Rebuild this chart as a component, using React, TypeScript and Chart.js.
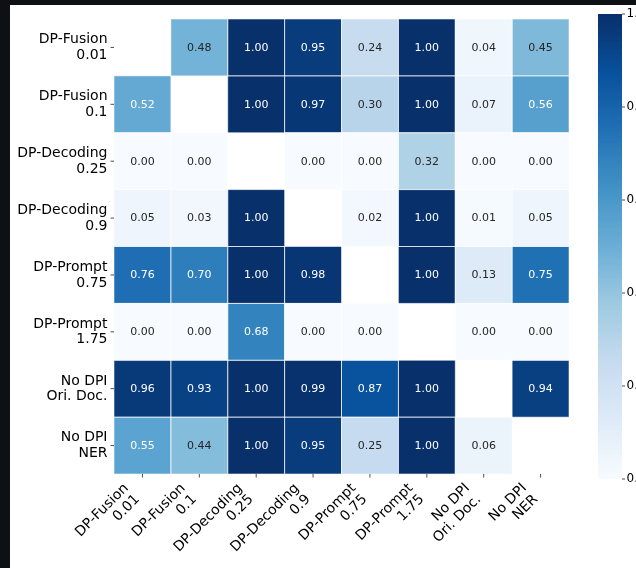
import React, { useEffect, useRef } from "react";
import { Chart, registerables } from "chart.js";
Chart.register(...registerables);

const categories: string[][] = [
  ["DP-Fusion", "0.01"],
  ["DP-Fusion", "0.1"],
  ["DP-Decoding", "0.25"],
  ["DP-Decoding", "0.9"],
  ["DP-Prompt", "0.75"],
  ["DP-Prompt", "1.75"],
  ["No DPI", "Ori. Doc."],
  ["No DPI", "NER"],
];

const rowFusion001 = [null, 0.48, 1.0, 0.95, 0.24, 1.0, 0.04, 0.45];
const rowFusion01 = [0.52, null, 1.0, 0.97, 0.3, 1.0, 0.07, 0.56];
const rowDecoding025 = [0.0, 0.0, null, 0.0, 0.0, 0.32, 0.0, 0.0];
const rowDecoding09 = [0.05, 0.03, 1.0, null, 0.02, 1.0, 0.01, 0.05];
const rowPrompt075 = [0.76, 0.7, 1.0, 0.98, null, 1.0, 0.13, 0.75];
const rowPrompt175 = [0.0, 0.0, 0.68, 0.0, 0.0, null, 0.0, 0.0];
const rowNoDpiDoc = [0.96, 0.93, 1.0, 0.99, 0.87, 1.0, null, 0.94];
const rowNoDpiNer = [0.55, 0.44, 1.0, 0.95, 0.25, 1.0, 0.06, null];

const matrix: (number | null)[][] = [
  rowFusion001,
  rowFusion01,
  rowDecoding025,
  rowDecoding09,
  rowPrompt075,
  rowPrompt175,
  rowNoDpiDoc,
  rowNoDpiNer,
];

const colorbarTicks = [0, 0.2, 0.4, 0.6, 0.8, 1.0];
const colorbarTickLabels = ["0.0", "0.2", "0.4", "0.6", "0.8", "1.0"];

const BLUES = [
  "#f7fbff", "#deebf7", "#c6dbef", "#9ecae1", "#6baed6",
  "#4292c6", "#2171b5", "#08519c", "#08306b",
];

function hexToRgb(h: string) {
  return [parseInt(h.slice(1, 3), 16), parseInt(h.slice(3, 5), 16), parseInt(h.slice(5, 7), 16)];
}
const BLUES_RGB = BLUES.map(hexToRgb);

function bluesRgb(v: number): number[] {
  const idx = Math.min(255, Math.max(0, Math.floor(v * 256)));
  const t = idx / 255;
  const p = t * 8;
  const i = Math.min(7, Math.floor(p));
  const f = p - i;
  const a = BLUES_RGB[i];
  const b = BLUES_RGB[i + 1];
  return [0, 1, 2].map((k) => a[k] + (b[k] - a[k]) * f);
}
function rgbStr(c: number[]) {
  return `rgb(${Math.round(c[0])},${Math.round(c[1])},${Math.round(c[2])})`;
}
function luminance(c: number[]) {
  const lin = c.map((x) => {
    const s = x / 255;
    return s <= 0.03928 ? s / 12.92 : Math.pow((s + 0.055) / 1.055, 2.4);
  });
  return 0.2126 * lin[0] + 0.7152 * lin[1] + 0.0722 * lin[2];
}

const FONT = '"DejaVu Sans", sans-serif';

const heatmapPlugin = {
  id: "heatmapPlugin",
  beforeDraw(chart: any) {
    const ctx = chart.ctx;
    ctx.save();
    ctx.fillStyle = "#0e1113";
    ctx.fillRect(0, 0, chart.width, chart.height);
    ctx.fillStyle = "#ffffff";
    ctx.fillRect(10, 5, chart.width - 10, chart.height - 5);
    ctx.restore();
  },
  afterDatasetsDraw(chart: any) {
    const ctx = chart.ctx;
    const xs = chart.scales.x;
    const ys = chart.scales.y;
    const area = chart.chartArea;
    const pts = chart.data.datasets[0].data as any[];
    ctx.save();
    // cells
    for (const p of pts) {
      if (p.v === null) continue;
      const x0 = xs.getPixelForValue(p.x - 0.5);
      const x1 = xs.getPixelForValue(p.x + 0.5);
      const y0 = ys.getPixelForValue(p.y - 0.5);
      const y1 = ys.getPixelForValue(p.y + 0.5);
      const c = bluesRgb(p.v);
      ctx.fillStyle = rgbStr(c);
      ctx.fillRect(x0, Math.min(y0, y1), x1 - x0, Math.abs(y1 - y0));
    }
    // cell borders
    ctx.strokeStyle = "rgba(255,255,255,0.6)";
    ctx.lineWidth = 0.9;
    for (const p of pts) {
      if (p.v === null) continue;
      const x0 = xs.getPixelForValue(p.x - 0.5);
      const x1 = xs.getPixelForValue(p.x + 0.5);
      const y0 = ys.getPixelForValue(p.y - 0.5);
      const y1 = ys.getPixelForValue(p.y + 0.5);
      ctx.strokeRect(x0, Math.min(y0, y1), x1 - x0, Math.abs(y1 - y0));
    }
    // annotations
    ctx.font = `11px ${FONT}`;
    ctx.textAlign = "center";
    ctx.textBaseline = "middle";
    for (const p of pts) {
      if (p.v === null) continue;
      const c = bluesRgb(p.v);
      ctx.fillStyle = luminance(c) > 0.38 ? "#262626" : "#ffffff";
      ctx.fillText(p.v.toFixed(2), xs.getPixelForValue(p.x), ys.getPixelForValue(p.y) + 0.5);
    }
    // y ticks + labels
    const fs = 14;
    const lineStep = 15.8;
    ctx.strokeStyle = "#222";
    ctx.lineWidth = 0.8;
    ctx.font = `${fs}px ${FONT}`;
    ctx.fillStyle = "#000";
    ctx.textAlign = "right";
    ctx.textBaseline = "alphabetic";
    categories.forEach((lab, i) => {
      const yc = ys.getPixelForValue(i);
      ctx.beginPath();
      ctx.moveTo(area.left - 3.5, yc);
      ctx.lineTo(area.left, yc);
      ctx.stroke();
      const n = lab.length;
      const h = lineStep * (n - 1) + fs;
      const top = yc - h / 2;
      lab.forEach((s, k) => {
        ctx.fillText(s, area.left - 6.5, top + 0.77 * fs + k * lineStep);
      });
    });
    // x ticks + rotated labels
    const c45 = Math.SQRT1_2;
    categories.forEach((lab, i) => {
      const xc = xs.getPixelForValue(i);
      ctx.beginPath();
      ctx.moveTo(xc, area.bottom);
      ctx.lineTo(xc, area.bottom + 3.5);
      ctx.stroke();
      const widths = lab.map((s) => ctx.measureText(s).width);
      const W = Math.max(...widths);
      const n = lab.length;
      const H = lineStep * (n - 1) + fs;
      const tx = xc - c45 * (W + H);
      const ty = area.bottom + 7 + c45 * W;
      ctx.save();
      ctx.translate(tx, ty);
      ctx.rotate(-Math.PI / 4);
      ctx.textAlign = "right";
      lab.forEach((s, k) => {
        ctx.fillText(s, W, 0.77 * fs + k * lineStep);
      });
      ctx.restore();
    });
    // colorbar
    const cbL = 598, cbR = 622, cbT = 14, cbB = 479;
    for (let yy = cbT; yy < cbB; yy++) {
      const v = 1 - (yy + 0.5 - cbT) / (cbB - cbT);
      ctx.fillStyle = rgbStr(bluesRgb(v));
      ctx.fillRect(cbL, yy, cbR - cbL, 1);
    }
    ctx.font = `12px ${FONT}`;
    ctx.textAlign = "left";
    ctx.textBaseline = "middle";
    ctx.fillStyle = "#000";
    colorbarTicks.forEach((t, i) => {
      const yy = cbB - t * (cbB - cbT);
      ctx.beginPath();
      ctx.moveTo(cbR, yy);
      ctx.lineTo(cbR + 3, yy);
      ctx.stroke();
      ctx.fillText(colorbarTickLabels[i], cbR + 4.5, yy);
    });
    ctx.restore();
  },
};

export default function App() {
  const ref = useRef<HTMLCanvasElement | null>(null);
  useEffect(() => {
    if (!ref.current) return;
    const points: any[] = [];
    matrix.forEach((row, r) =>
      row.forEach((v, c) => points.push({ x: c, y: r, v }))
    );
    const chart = new Chart(ref.current, {
      type: "scatter",
      data: {
        datasets: [
          {
            data: points,
            pointRadius: 0,
            pointHoverRadius: 0,
          } as any,
        ],
      },
      options: {
        animation: false,
        responsive: false,
        events: [],
        layout: { padding: { left: 114, right: 67, top: 19, bottom: 94 } },
        plugins: { legend: { display: false }, tooltip: { enabled: false } },
        scales: {
          x: { type: "linear", min: -0.5, max: 7.5, display: false },
          y: { type: "linear", min: -0.5, max: 7.5, reverse: true, display: false },
        },
      },
      plugins: [heatmapPlugin],
    });
    return () => chart.destroy();
  }, []);
  return (
    <div style={{ position: "fixed", left: 0, top: 0, width: 636, height: 568 }}>
      <canvas ref={ref} width={636} height={568} style={{ display: "block" }} />
    </div>
  );
}
